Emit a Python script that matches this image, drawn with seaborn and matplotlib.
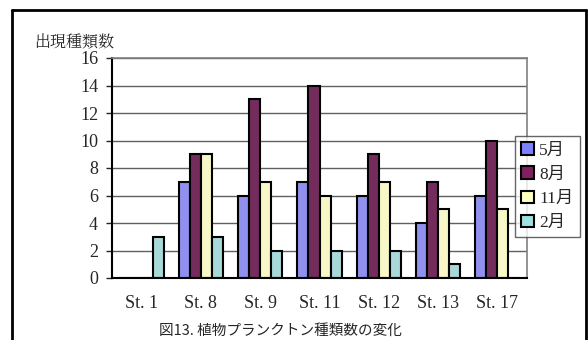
import numpy as np
import pandas as pd
import seaborn as sns
import matplotlib.pyplot as plt
from matplotlib.lines import Line2D
from matplotlib.patches import Patch

# === Dati ===
stations = ['St. 1', 'St. 8', 'St. 9', 'St. 11', 'St. 12', 'St. 13', 'St. 17']
months = ['5月', '8月', '11月', '2月']
may = [0, 7, 6, 7, 6, 4, 6]
aug = [0, 9, 13, 14, 9, 7, 10]
nov = [0, 9, 7, 6, 7, 5, 5]
feb = [3, 3, 2, 2, 2, 1, 0]
colors = ['#8080FF', '#802060', '#FFFFC0', '#A0E0E0']

df = pd.DataFrame({
    'station': stations * 4,
    'month': [m for m in months for _ in stations],
    'count': may + aug + nov + feb,
})

sns.set_style('white')
plt.rcParams['font.family'] = ['Liberation Serif', 'Noto Sans CJK JP']

fig = plt.figure(figsize=(5.88, 3.40), dpi=100)
ax = fig.add_axes([112 / 588, 1 - 278 / 340, 415 / 588, 220 / 340])

sns.barplot(data=df, x='station', y='count', hue='month', order=stations,
            hue_order=months, palette=colors, edgecolor='black', linewidth=1.5,
            width=0.75, gap=0, ax=ax, legend=False)

ax.set_ylim(0, 16)
ax.set_xlim(-0.5, len(stations) - 0.5)
ax.set_yticks(np.arange(0, 17, 2))
ax.yaxis.grid(True, color='#606060', linewidth=1)
ax.set_axisbelow(True)
ax.set_xlabel('')
ax.set_ylabel('')

for s in ['top', 'right']:
    ax.spines[s].set_color('#808080')
    ax.spines[s].set_linewidth(1.2)
for s in ['left', 'bottom']:
    ax.spines[s].set_color('black')
    ax.spines[s].set_linewidth(1.5)

ax.tick_params(axis='y', labelsize=13, length=4, width=1, direction='out', pad=6, left=True)
ax.set_xticks(range(len(stations)))
ax.set_xticklabels(stations, fontsize=13)
ax.tick_params(axis='x', length=0, pad=12)
# tacche tra i gruppi
ax.set_xticks(np.arange(0.5, len(stations) - 1, 1), minor=True)
ax.tick_params(axis='x', which='minor', length=5, width=1, direction='in', color='black')

fig.text(34 / 588, 1 - 47 / 340, '出現種類数', fontsize=11.5, ha='left', va='baseline',
         family=['Noto Serif CJK JP', 'Liberation Serif', 'Noto Sans CJK JP'])
fig.text(280 / 588, 1 - 335 / 340, '図13. 植物プランクトン種類数の変化', fontsize=10.5,
         ha='center', va='baseline', family=['Noto Sans CJK JP', 'DejaVu Sans'])

handles = [Patch(facecolor=c, edgecolor='black', linewidth=1.5) for c in colors]
leg = fig.legend(handles, months, loc='upper left',
                 bbox_to_anchor=(515 / 588, 1 - 136 / 340), fontsize=12.5,
                 frameon=True, fancybox=False, edgecolor='#404040',
                 handlelength=0.75, handleheight=0.75, handletextpad=0.3,
                 borderpad=0.35, labelspacing=0.45, borderaxespad=0)
leg.get_frame().set_linewidth(1)

# cornice esterna
fig.add_artist(Line2D([12 / 588, 12 / 588], [0, 1 - 10 / 340], color='black', linewidth=2))
fig.add_artist(Line2D([12 / 588, 586 / 588], [1 - 10 / 340, 1 - 10 / 340], color='black', linewidth=2))
fig.add_artist(Line2D([586 / 588, 586 / 588], [0, 1 - 10 / 340], color='black', linewidth=2))

fig.savefig('out.png', dpi=100)
